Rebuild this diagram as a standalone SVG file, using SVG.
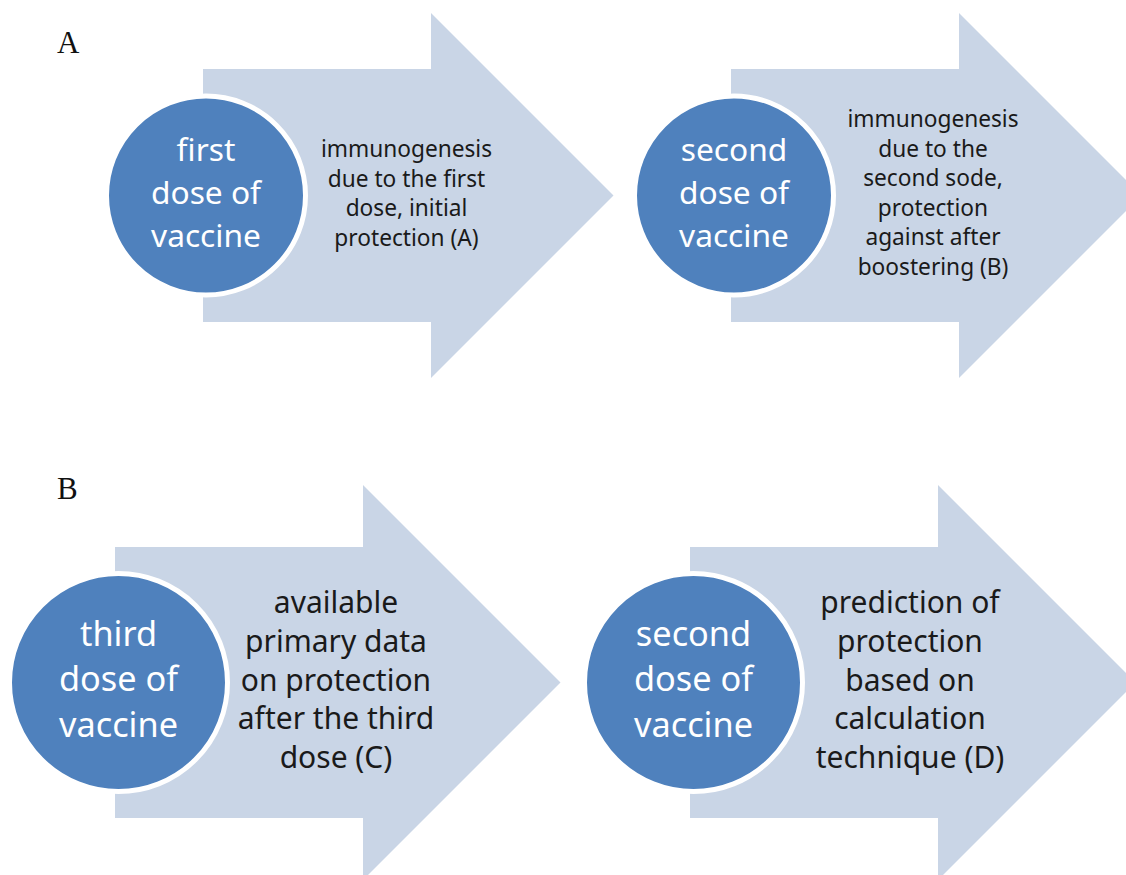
<svg xmlns="http://www.w3.org/2000/svg" width="1126" height="875" viewBox="0 0 1126 875">
<defs>
<style>
.arrow{fill:#C9D5E6;}
.circ{fill:#4F81BD;stroke:#FFFFFF;stroke-width:5;}
.ct{font-family:"Noto Sans","Open Sans","Liberation Sans",sans-serif;fill:#FFFFFF;text-anchor:middle;}
.dt{font-family:"Noto Sans","Open Sans","Liberation Sans",sans-serif;fill:#1A1A1A;text-anchor:middle;}
.lbl{font-family:"Liberation Serif","Times New Roman",serif;fill:#111111;font-size:31px;}
</style>
</defs>
<rect width="1126" height="875" fill="#FFFFFF"/>
<text class="lbl" x="57" y="53">A</text>
<text class="lbl" x="57" y="499">B</text>

<g id="step1">
<path class="arrow" d="M203,69 H431 V13 L613.5,195.5 L431,378 V322 H203 Z"/>
<circle class="circ" cx="206" cy="195.5" r="99.5"/>
<text class="ct" font-size="31.7"><tspan x="206" y="161">first</tspan><tspan x="206" y="204">dose of</tspan><tspan x="206" y="247">vaccine</tspan></text>
<text class="dt" font-size="22.7"><tspan x="406.5" y="157">immunogenesis</tspan><tspan x="406.5" y="186.5">due to the first</tspan><tspan x="406.5" y="216">dose, initial</tspan><tspan x="406.5" y="245.5">protection (A)</tspan></text>
</g>

<g id="step2">
<path class="arrow" d="M731,69 H959 V13 L1141.5,195.5 L959,378 V322 H731 Z"/>
<circle class="circ" cx="734" cy="195.5" r="99.5"/>
<text class="ct" font-size="31.7"><tspan x="734" y="161">second</tspan><tspan x="734" y="204">dose of</tspan><tspan x="734" y="247">vaccine</tspan></text>
<text class="dt" font-size="22.7"><tspan x="933" y="127">immunogenesis</tspan><tspan x="933" y="156.5">due to the</tspan><tspan x="933" y="186">second sode,</tspan><tspan x="933" y="215.5">protection</tspan><tspan x="933" y="245">against after</tspan><tspan x="933" y="274.5">boostering (B)</tspan></text>
</g>

<g id="step3">
<path class="arrow" d="M115,547 H363 V485 L560.5,682.5 L363,880 V818 H115 Z"/>
<circle class="circ" cx="118.5" cy="682.5" r="109"/>
<text class="ct" font-size="34.3"><tspan x="118.5" y="646">third</tspan><tspan x="118.5" y="691">dose of</tspan><tspan x="118.5" y="737">vaccine</tspan></text>
<text class="dt" font-size="30"><tspan x="336" y="613">available</tspan><tspan x="336" y="652">primary data</tspan><tspan x="336" y="690.5">on protection</tspan><tspan x="336" y="729">after the third</tspan><tspan x="336" y="768">dose (C)</tspan></text>
</g>

<g id="step4">
<path class="arrow" d="M690,547 H938 V485 L1135.5,682.5 L938,880 V818 H690 Z"/>
<circle class="circ" cx="693.5" cy="682.5" r="109"/>
<text class="ct" font-size="34.3"><tspan x="693.5" y="646">second</tspan><tspan x="693.5" y="691">dose of</tspan><tspan x="693.5" y="737">vaccine</tspan></text>
<text class="dt" font-size="30"><tspan x="910" y="613">prediction of</tspan><tspan x="910" y="652">protection</tspan><tspan x="910" y="690.5">based on</tspan><tspan x="910" y="729">calculation</tspan><tspan x="910" y="768">technique (D)</tspan></text>
</g>

<g id="connectors"></g>
</svg>
